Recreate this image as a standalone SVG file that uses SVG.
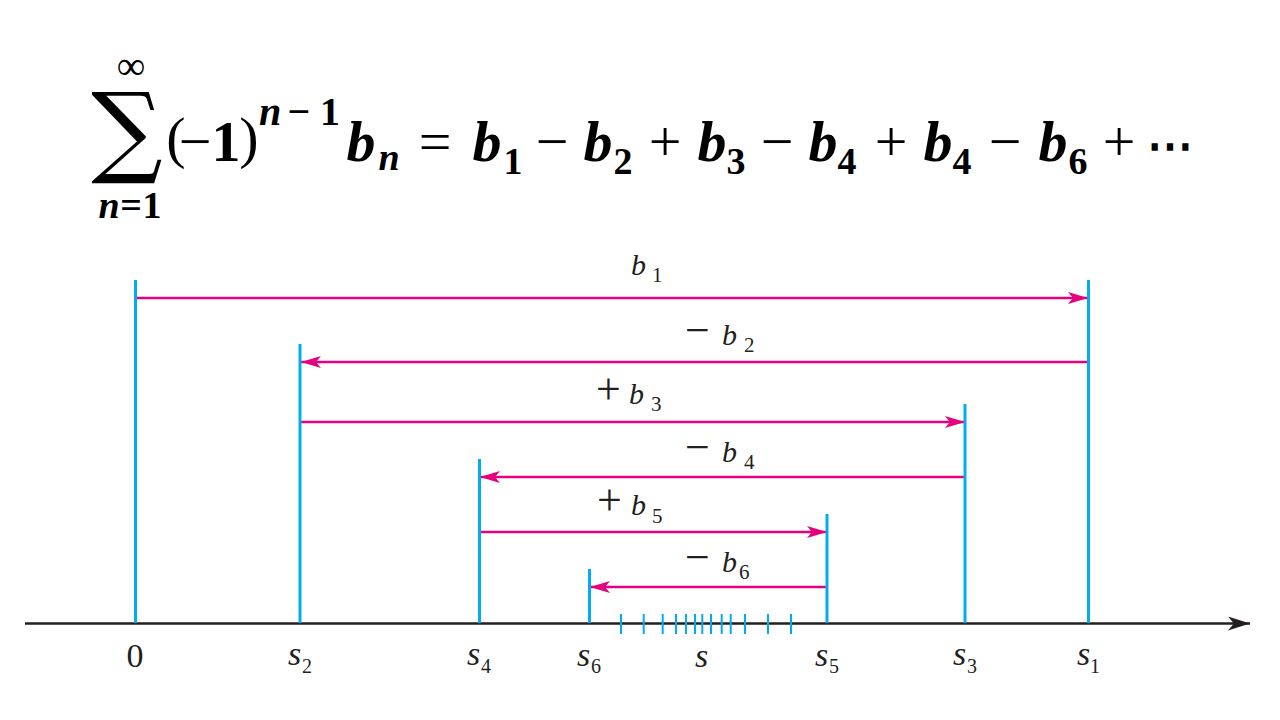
<svg xmlns="http://www.w3.org/2000/svg" width="1280" height="720" viewBox="0 0 1280 720">
<defs>
<style>
.m{text-anchor:middle}
.bi{font-weight:bold;font-style:italic}
.b{font-weight:bold}
.big{font-size:58px}
.sm{font-size:38px}
.sup{font-size:40px}
.it{font-style:italic}
.op{font-size:44px}
.lb{font-size:30px;font-style:italic}
.ls{font-size:21px}
.v{stroke:#00AEEF;stroke-width:3;fill:none}
.tk{stroke:#00AEEF;stroke-width:2;fill:none}
.a{stroke:#E6007E;stroke-width:2.6;fill:none;marker-end:url(#mh)}
</style>
<marker id="mh" viewBox="0 0 20 12" refX="20" refY="6" markerWidth="20" markerHeight="12" markerUnits="userSpaceOnUse" orient="auto">
<path d="M20,6 L0,0 L5,6 L0,12 Z" fill="#E6007E"/>
</marker>
<marker id="ah" viewBox="0 0 22 14" refX="22" refY="7" markerWidth="22" markerHeight="14" markerUnits="userSpaceOnUse" orient="auto">
<path d="M22,7 L0,0 L6,7 L0,14 Z" fill="#231F20"/>
</marker>
</defs>
<rect width="1280" height="720" fill="#fff"/>

<g id="formula" font-family="'Liberation Serif', 'Times New Roman', serif" fill="#000">
<text x="127" y="164" class="m" font-size="100" font-family="'DejaVu Serif', serif">∑</text>
<text x="131" y="79" class="m" font-size="40">∞</text>
<text x="109" y="218" class="m sm bi">n</text>
<text x="131" y="218" class="m sm b">=</text>
<text x="152" y="218" class="m sm b">1</text>
<text x="176" y="157" class="m big">(</text>
<text x="195" y="161" class="m big">−</text>
<text x="226" y="161" class="m big b">1</text>
<text x="249" y="157" class="m big">)</text>
<text x="270" y="125" class="m sup bi">n</text>
<text x="299" y="125" class="m sup b">−</text>
<text x="330" y="125" class="m sup b">1</text>
<text x="361" y="161" class="m big bi">b</text>
<text x="389" y="170" class="m sm bi">n</text>
<text x="435" y="161" class="m big">=</text>
<text x="487" y="161" class="m big bi">b</text>
<text x="513" y="174" class="m sm b">1</text>
<text x="552" y="161" class="m big">−</text>
<text x="598" y="161" class="m big bi">b</text>
<text x="623" y="174" class="m sm b">2</text>
<text x="665" y="161" class="m big">+</text>
<text x="712" y="161" class="m big bi">b</text>
<text x="736" y="174" class="m sm b">3</text>
<text x="777" y="161" class="m big">−</text>
<text x="823" y="161" class="m big bi">b</text>
<text x="847" y="174" class="m sm b">4</text>
<text x="891" y="161" class="m big">+</text>
<text x="938" y="161" class="m big bi">b</text>
<text x="962" y="174" class="m sm b">4</text>
<text x="1005" y="161" class="m big">−</text>
<text x="1053" y="161" class="m big bi">b</text>
<text x="1078" y="174" class="m sm b">6</text>
<text x="1119" y="161" class="m big">+</text>
<text x="1170" y="161" class="m b" font-size="46">⋯</text>
</g>

<g id="connectors">
<line x1="25" y1="623.5" x2="1250" y2="623.5" stroke="#231F20" stroke-width="2.5" marker-end="url(#ah)"/>
<line class="a" x1="135" y1="298" x2="1088" y2="298"/>
<line class="a" x1="1088" y1="362" x2="301" y2="362"/>
<line class="a" x1="300" y1="422" x2="965" y2="422"/>
<line class="a" x1="965" y1="477" x2="480" y2="477"/>
<line class="a" x1="480" y1="532" x2="827" y2="532"/>
<line class="a" x1="827" y1="587" x2="590" y2="587"/>
</g>

<g font-family="'Liberation Serif', 'Times New Roman', serif" fill="#231F20">
<g id="node-0"><line class="v" x1="135.5" y1="280" x2="135.5" y2="623"/>
<text class="m" x="135" y="667" font-size="34">0</text></g>
<g id="node-s2"><line class="v" x1="300" y1="344" x2="300" y2="623"/>
<text x="288" y="665" class="it" font-size="34">s</text><text x="302" y="673" font-size="20">2</text></g>
<g id="node-s4"><line class="v" x1="479.5" y1="459" x2="479.5" y2="623"/>
<text x="467" y="665" class="it" font-size="34">s</text><text x="481" y="673" font-size="20">4</text></g>
<g id="node-s6"><line class="v" x1="589.5" y1="569" x2="589.5" y2="623"/>
<text x="577" y="666" class="it" font-size="34">s</text><text x="591" y="673" font-size="20">6</text></g>
<g id="node-s5"><line class="v" x1="827" y1="514" x2="827" y2="623"/>
<text x="815" y="666" class="it" font-size="34">s</text><text x="829" y="673" font-size="20">5</text></g>
<g id="node-s3"><line class="v" x1="965" y1="404" x2="965" y2="623"/>
<text x="953" y="665" class="it" font-size="34">s</text><text x="967" y="673" font-size="20">3</text></g>
<g id="node-s1"><line class="v" x1="1088.5" y1="280" x2="1088.5" y2="623"/>
<text x="1077" y="665" class="it" font-size="34">s</text><text x="1090" y="673" font-size="20">1</text></g>

<g id="node-s">
<text class="it" x="695" y="667" font-size="34">s</text>
<g class="tk">
<line x1="621" y1="614" x2="621" y2="634"/>
<line x1="643.7" y1="614" x2="643.7" y2="634"/>
<line x1="662.7" y1="614" x2="662.7" y2="634"/>
<line x1="676" y1="614" x2="676" y2="634"/>
<line x1="686" y1="614" x2="686" y2="634"/>
<line x1="695" y1="614" x2="695" y2="634"/>
<line x1="702.3" y1="614" x2="702.3" y2="634"/>
<line x1="711" y1="614" x2="711" y2="634"/>
<line x1="721.7" y1="614" x2="721.7" y2="634"/>
<line x1="730.7" y1="614" x2="730.7" y2="634"/>
<line x1="745" y1="614" x2="745" y2="634"/>
<line x1="768" y1="614" x2="768" y2="634"/>
<line x1="791" y1="614" x2="791" y2="634"/>
</g>
</g>

<g id="labels">
<text x="631" y="275" class="lb">b</text><text x="652" y="282" class="ls">1</text>
<text x="685" y="345" class="op">−</text><text x="722" y="345" class="lb">b</text><text x="744" y="352" class="ls">2</text>
<text x="596" y="404" class="op">+</text><text x="629" y="404" class="lb">b</text><text x="651" y="411" class="ls">3</text>
<text x="685" y="462" class="op">−</text><text x="722" y="462" class="lb">b</text><text x="744" y="469" class="ls">4</text>
<text x="597" y="515" class="op">+</text><text x="631" y="515" class="lb">b</text><text x="652" y="523" class="ls">5</text>
<text x="685" y="572" class="op">−</text><text x="722" y="572" class="lb">b</text><text x="739" y="579" class="ls">6</text>
</g>
</g>
</svg>
